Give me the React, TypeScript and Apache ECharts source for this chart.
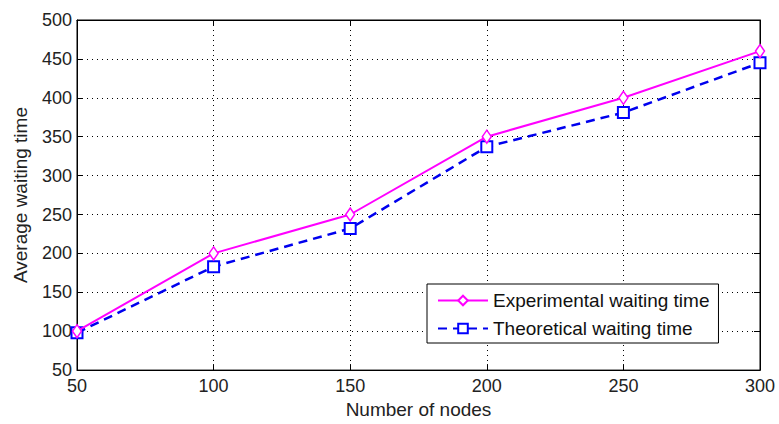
import React, { useEffect, useRef } from "react";
import * as echarts from "echarts";

const nodes = [50, 100, 150, 200, 250, 300];
const experimental = [100, 200, 250, 350, 400, 460];
const theoretical = [98, 183, 232, 337, 381, 445];
const seriesNames = ["Experimental waiting time", "Theoretical waiting time"];
const xLabel = "Number of nodes";
const yLabel = "Average waiting time";

const FONT = "Liberation Sans, Arial, sans-serif";

export default function App() {
  const ref = useRef<HTMLDivElement>(null);
  useEffect(() => {
    if (!ref.current) return;
    const chart = echarts.init(ref.current, undefined, { renderer: "svg" });
    const gridLine = { show: true, lineStyle: { color: "#000", type: [1, 4] as any, width: 1 } };
    const tickIn = { show: true, inside: true, length: 6, lineStyle: { color: "#000" } };
    chart.setOption({
      animation: false,
      backgroundColor: "#fff",
      textStyle: { fontFamily: FONT },
      grid: { left: 77, right: 19, top: 20, bottom: 50, show: true, borderColor: "#000", borderWidth: 1 },
      xAxis: [
        {
          type: "value", min: 50, max: 300, interval: 50,
          name: xLabel, nameLocation: "middle", nameGap: 28,
          nameTextStyle: { fontSize: 19, color: "#222", fontFamily: FONT },
          axisLine: { show: true, lineStyle: { color: "#000" } },
          axisTick: tickIn,
          axisLabel: { fontSize: 18, color: "#222", margin: 7, fontFamily: FONT },
          splitLine: gridLine,
        },
        {
          type: "value", min: 50, max: 300, interval: 50, position: "top",
          axisLine: { show: true, lineStyle: { color: "#000" } },
          axisTick: tickIn, axisLabel: { show: false }, splitLine: { show: false },
        },
      ],
      yAxis: [
        {
          type: "value", min: 50, max: 500, interval: 50,
          name: yLabel, nameLocation: "middle", nameGap: 47,
          nameTextStyle: { fontSize: 19, color: "#222", fontFamily: FONT },
          axisLine: { show: true, lineStyle: { color: "#000" } },
          axisTick: tickIn,
          axisLabel: { fontSize: 18, color: "#222", margin: 5, fontFamily: FONT },
          splitLine: gridLine,
        },
        {
          type: "value", min: 50, max: 500, interval: 50, position: "right",
          axisLine: { show: true, lineStyle: { color: "#000" } },
          axisTick: tickIn, axisLabel: { show: false }, splitLine: { show: false },
        },
      ],
      legend: {
        orient: "vertical",
        left: 427, top: 284,
        padding: [7, 9, 5, 10],
        itemGap: 9,
        itemWidth: 50, itemHeight: 12,
        backgroundColor: "#fff",
        borderColor: "#000", borderWidth: 1, borderRadius: 0,
        textStyle: { fontSize: 19, color: "#111", fontFamily: FONT, padding: [0, 0, 0, 0] },
        data: seriesNames,
      },
      series: [
        {
          name: seriesNames[0], type: "line",
          data: nodes.map((x, i) => [x, experimental[i]]),
          symbol: "diamond", symbolSize: [9, 13],
          itemStyle: { color: "#fff", borderColor: "#ff00ff", borderWidth: 1.5 },
          lineStyle: { color: "#ff00ff", width: 2 },
          z: 3,
        },
        {
          name: seriesNames[1], type: "line",
          data: nodes.map((x, i) => [x, theoretical[i]]),
          symbol: "rect", symbolSize: 11,
          itemStyle: { color: "#fff", borderColor: "#0000ff", borderWidth: 2 },
          lineStyle: { color: "#0000ee", width: 2.5, type: [9, 6] as any },
          z: 2,
        },
      ],
    });
    return () => chart.dispose();
  }, []);
  return <div ref={ref} style={{ width: 779, height: 424, position: "absolute", left: 0, top: 0 }} />;
}
